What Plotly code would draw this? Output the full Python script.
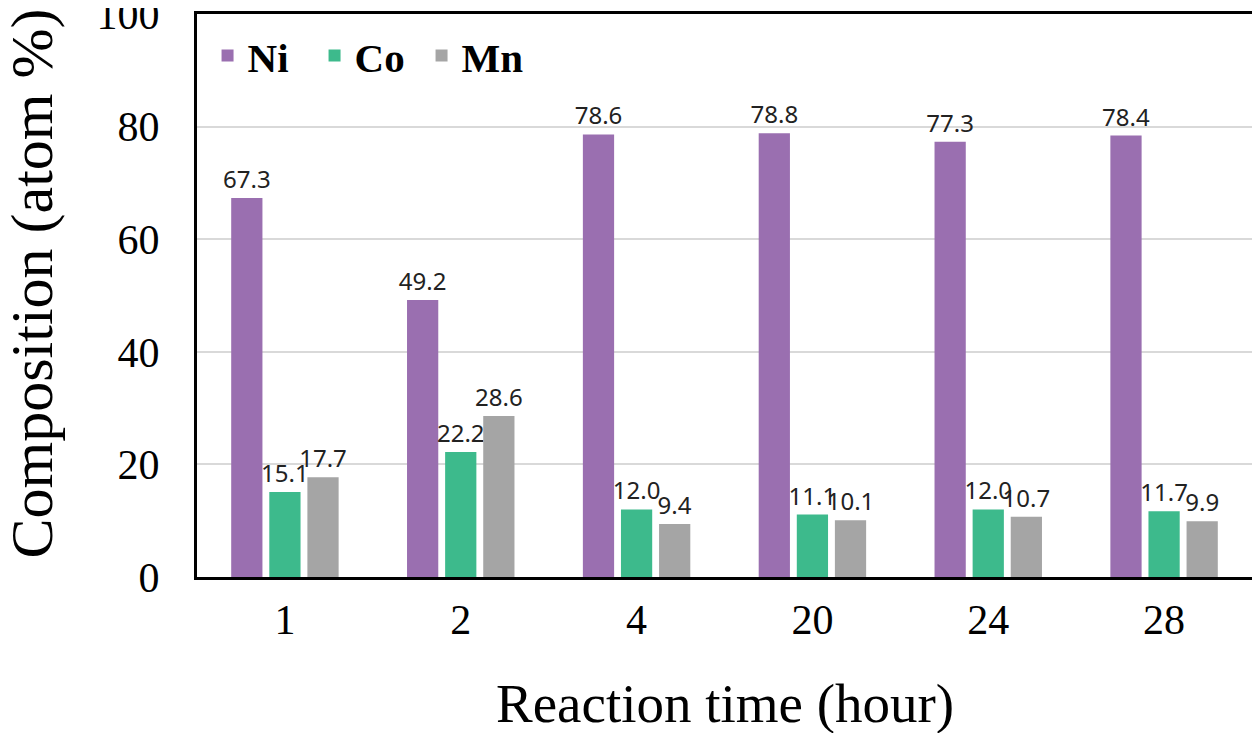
import plotly.graph_objects as go

categories = ["1", "2", "4", "20", "24", "28"]
ni = [67.3, 49.2, 78.6, 78.8, 77.3, 78.4]
co = [15.1, 22.2, 12.0, 11.1, 12.0, 11.7]
mn = [17.7, 28.6, 9.4, 10.1, 10.7, 9.9]
series_names = ["Ni", "Co", "Mn"]
colors = ["#9a6fb0", "#3dba8c", "#a5a5a5"]
x_title = "Reaction time (hour)"
y_title = "Composition (atom %)"

fig = go.Figure()
for name, vals, col in zip(series_names, [ni, co, mn], colors):
    fig.add_trace(go.Bar(
        x=categories, y=vals, name=name, marker_color=col,
        marker_line_width=0,
        text=[f"{v:.1f}" for v in vals], textposition="outside",
        constraintext="none",
        textfont=dict(family="Noto Sans", size=24, color="#222222"),
        cliponaxis=False,
    ))

fig.update_layout(
    width=1252, height=725,
    margin=dict(l=189, r=8, t=6, b=156),
    paper_bgcolor="white", plot_bgcolor="white",
    barmode="group", bargap=0.35, bargroupgap=0.18,
    showlegend=True,
    legend=dict(orientation="h", x=0.01, y=0.985, xanchor="left", yanchor="top",
                font=dict(family="Liberation Serif", size=41, color="black", weight="bold"),
                bgcolor="rgba(0,0,0,0)", itemwidth=30, entrywidth=62, entrywidthmode="pixels"),
    font=dict(family="Liberation Serif", color="black"),
    annotations=[
        dict(text=x_title, xref="paper", yref="paper", x=0.5, y=0, yshift=-126,
             xanchor="center", yanchor="middle", showarrow=False,
             font=dict(family="Liberation Serif", size=55, color="black")),
        dict(text=y_title, xref="paper", yref="paper", x=0, y=0.5, xshift=-166, yshift=12,
             xanchor="center", yanchor="middle", showarrow=False, textangle=-90,
             font=dict(family="Liberation Serif", size=60, color="black")),
    ],
)
fig.update_xaxes(
    type="category", automargin=False,
    showline=True, linecolor="black", linewidth=3, mirror=True,
    tickfont=dict(family="Liberation Serif", size=42, color="black"),
    ticks="outside", ticklen=4, tickcolor="white",
)
fig.update_yaxes(
    range=[0, 100], tickvals=[0, 20, 40, 60, 80, 100], automargin=False,
    ticklabeloverflow="allow",
    showline=True, linecolor="black", linewidth=3, mirror=True,
    showgrid=True, gridcolor="#d9d9d9", gridwidth=1.5,
    tickfont=dict(family="Liberation Serif", size=42, color="black"),
    ticks="outside", ticklen=26, tickcolor="white",
    zeroline=False,
)

fig.write_html("out.html")
